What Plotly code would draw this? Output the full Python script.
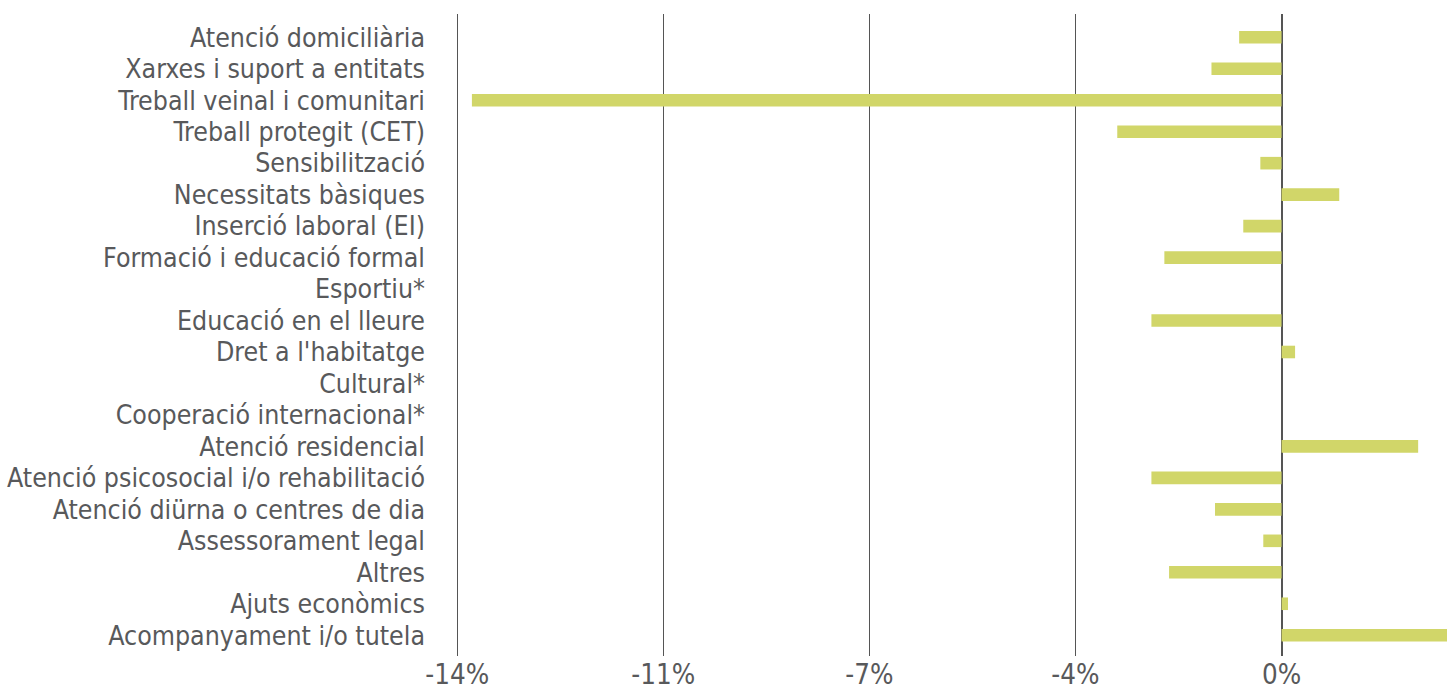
import plotly.graph_objects as go

categories = [
    "Atenció domiciliària",
    "Xarxes i suport a entitats",
    "Treball veinal i comunitari",
    "Treball protegit (CET)",
    "Sensibilització",
    "Necessitats bàsiques",
    "Inserció laboral (EI)",
    "Formació i educació formal",
    "Esportiu*",
    "Educació en el lleure",
    "Dret a l'habitatge",
    "Cultural*",
    "Cooperació internacional*",
    "Atenció residencial",
    "Atenció psicosocial i/o rehabilitació",
    "Atenció diürna o centres de dia",
    "Assessorament legal",
    "Altres",
    "Ajuts econòmics",
    "Acompanyament i/o tutela",
]

values = [
    -0.72, -1.19, -13.75, -2.79, -0.36, 0.98, -0.65, -1.99, None, -2.21,
    0.23, None, None, 2.32, -2.21, -1.13, -0.31, -1.91, 0.11, 2.9,
]

tick_vals = [-14, -10.5, -7, -3.5, 0]
tick_text = ["-14%", "-11%", "-7%", "-4%", "0%"]

text_color = "#58595b"
font_family = "DejaVu Sans Condensed, DejaVu Sans, sans-serif"

fig = go.Figure(
    go.Bar(
        x=values,
        y=list(range(len(categories))),
        orientation="h",
        marker=dict(color="#d1d669", line=dict(width=0)),
        width=0.4,
        hoverinfo="x+y",
    )
)

fig.update_layout(
    width=1447,
    height=688,
    margin=dict(l=456, r=0, t=14, b=32, autoexpand=False),
    paper_bgcolor="white",
    plot_bgcolor="white",
    showlegend=False,
    font=dict(family=font_family, color=text_color, size=26.5),
)

fig.update_xaxes(
    range=[-14.02, 2.81],
    tickvals=tick_vals,
    ticktext=tick_text,
    showgrid=True,
    gridcolor="#555555",
    gridwidth=1,
    zeroline=True,
    zerolinecolor="#555555",
    zerolinewidth=1.5,
    showline=False,
    ticks="",
    automargin=False,
    ticklabelstandoff=-1,
    tickfont=dict(family=font_family, color=text_color, size=27.5),
)

fig.update_yaxes(
    range=[19.66, -0.74],
    tickvals=list(range(len(categories))),
    ticktext=categories,
    showgrid=False,
    zeroline=False,
    showline=False,
    ticks="",
    automargin=False,
    ticklabelstandoff=30,
    tickfont=dict(family=font_family, color=text_color, size=26.5),
)

fig.write_html(
    "out.html",
    config={"displayModeBar": False},
    post_script="document.body.style.margin='0';document.body.style.overflow='hidden';",
)
